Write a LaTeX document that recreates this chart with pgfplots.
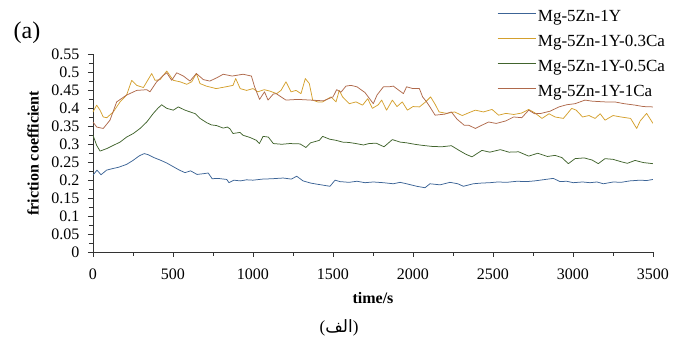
\documentclass[border=0pt]{standalone}
\usepackage{pgfplots}
\pgfplotsset{compat=1.18}
\usepackage{fontspec}
\setmainfont{Liberation Serif}
\newfontfamily\arabicfont[Script=Arabic]{DejaVu Sans}
\TeXXeTstate=1
\definecolor{cblue}{RGB}{60,100,150}
\definecolor{cgold}{RGB}{212,160,45}
\definecolor{cgreen}{RGB}{65,100,45}
\definecolor{cbrown}{RGB}{175,105,75}
\begin{document}
\begin{tikzpicture}
\fontsize{16}{19}\selectfont
\begin{axis}[
  scale only axis, width=560pt, height=197.5pt,
  xmin=0, xmax=3500, ymin=0, ymax=0.55,
  axis x line=bottom, axis y line=left, axis line style={-, black!80, line width=0.7pt},
  tick align=outside,
  xtick={0,500,1000,1500,2000,2500,3000,3500},
  ytick={0,0.05,0.1,0.15,0.2,0.25,0.3,0.35,0.4,0.45,0.5,0.55},
  minor x tick num=1, minor y tick num=1,
  major tick length=5pt, minor tick length=4pt,
  tick style={black!80, line width=0.6pt},
  scaled ticks=false,
  /pgf/number format/1000 sep={},
  /pgf/number format/assume math mode=true,
  yticklabel style={/pgf/number format/fixed, /pgf/number format/precision=2, xshift=-3pt},
  xticklabel style={yshift=-6pt},
  legend style={draw=none, fill=none, at={(rel axis cs:0.716,1.235)}, anchor=north west,
    legend cell align=left, row sep=10pt, column sep=2pt, font=\fontsize{17}{20}\selectfont,
    nodes={inner sep=0pt, text height=11.5pt, text depth=3.5pt}},
  legend image code/.code={\draw[#1, line width=0.8pt] (0pt,0.28em) -- (38pt,0.28em);},
  every axis plot/.append style={line width=0.75pt, line join=round},
]
\coordinate (o) at (rel axis cs:0,0);
\addplot[cblue] coordinates {
(0,0.214)(25,0.228)(50,0.215)(85,0.228)(120,0.232)(160,0.236)(210,0.244)(250,0.255)(290,0.268)(320,0.274)(345,0.271)(380,0.263)(420,0.256)(460,0.248)(500,0.238)(540,0.228)(575,0.221)(610,0.226)(650,0.216)(690,0.218)(720,0.220)(745,0.204)(780,0.205)(836,0.202)(850,0.193)(880,0.200)(920,0.198)(960,0.201)(1000,0.200)(1060,0.203)(1120,0.204)(1188,0.206)(1240,0.203)(1273,0.211)(1313,0.198)(1360,0.192)(1398,0.189)(1440,0.186)(1481,0.183)(1513,0.200)(1544,0.196)(1600,0.194)(1650,0.197)(1700,0.193)(1752,0.195)(1815,0.193)(1877,0.190)(1919,0.194)(1960,0.190)(2023,0.183)(2075,0.179)(2106,0.190)(2169,0.187)(2231,0.194)(2280,0.190)(2315,0.183)(2377,0.190)(2430,0.192)(2481,0.193)(2530,0.195)(2585,0.194)(2650,0.197)(2710,0.196)(2760,0.198)(2794,0.200)(2877,0.205)(2919,0.196)(2960,0.197)(3002,0.193)(3060,0.195)(3106,0.193)(3150,0.195)(3190,0.190)(3252,0.195)(3300,0.194)(3356,0.198)(3419,0.200)(3460,0.199)(3500,0.202)
};
\addlegendentry{Mg-5Zn-1Y}
\addplot[cgold] coordinates {
(0,0.390)(23,0.409)(44,0.395)(64,0.376)(86,0.374)(127,0.390)(169,0.418)(210,0.437)(242,0.478)(273,0.464)(315,0.458)(367,0.497)(388,0.478)(419,0.480)(461,0.504)(502,0.478)(544,0.474)(586,0.467)(617,0.474)(646,0.497)(669,0.469)(708,0.462)(770,0.455)(830,0.460)(875,0.464)(892,0.483)(920,0.455)(960,0.450)(1000,0.455)(1030,0.446)(1070,0.452)(1106,0.448)(1148,0.441)(1175,0.450)(1206,0.474)(1238,0.446)(1269,0.450)(1300,0.441)(1327,0.483)(1352,0.469)(1373,0.423)(1404,0.418)(1435,0.418)(1488,0.432)(1519,0.418)(1539,0.450)(1560,0.432)(1602,0.413)(1644,0.418)(1685,0.409)(1717,0.427)(1746,0.400)(1783,0.410)(1804,0.423)(1835,0.395)(1871,0.423)(1900,0.405)(1933,0.418)(1965,0.395)(2000,0.405)(2040,0.404)(2079,0.418)(2110,0.432)(2140,0.410)(2163,0.390)(2210,0.386)(2260,0.390)(2308,0.380)(2350,0.388)(2390,0.395)(2440,0.390)(2494,0.397)(2535,0.381)(2580,0.386)(2630,0.383)(2680,0.387)(2723,0.397)(2760,0.388)(2806,0.372)(2850,0.385)(2888,0.376)(2940,0.372)(2992,0.400)(3020,0.395)(3060,0.376)(3100,0.380)(3138,0.372)(3170,0.385)(3200,0.367)(3250,0.380)(3300,0.376)(3360,0.372)(3398,0.344)(3420,0.365)(3460,0.386)(3500,0.358)
};
\addlegendentry{Mg-5Zn-1Y-0.3Ca}
\addplot[cgreen] coordinates {
(0,0.325)(23,0.297)(44,0.281)(86,0.288)(127,0.297)(169,0.306)(210,0.320)(252,0.330)(294,0.344)(336,0.362)(377,0.386)(405,0.400)(429,0.410)(461,0.400)(502,0.395)(533,0.404)(575,0.395)(640,0.385)(669,0.372)(711,0.360)(740,0.354)(773,0.352)(814,0.345)(840,0.348)(856,0.343)(875,0.330)(919,0.333)(938,0.325)(981,0.319)(1021,0.311)(1040,0.302)(1063,0.322)(1096,0.320)(1127,0.302)(1180,0.300)(1230,0.302)(1294,0.301)(1331,0.291)(1360,0.304)(1415,0.311)(1435,0.322)(1480,0.314)(1519,0.311)(1560,0.306)(1600,0.305)(1644,0.302)(1690,0.298)(1725,0.302)(1770,0.303)(1819,0.293)(1871,0.313)(1920,0.306)(1960,0.304)(2010,0.300)(2058,0.297)(2120,0.294)(2180,0.293)(2240,0.296)(2288,0.283)(2331,0.272)(2369,0.265)(2431,0.283)(2480,0.278)(2546,0.285)(2600,0.278)(2660,0.279)(2723,0.267)(2780,0.275)(2840,0.266)(2888,0.269)(2930,0.263)(2971,0.246)(3013,0.260)(3070,0.262)(3120,0.256)(3158,0.246)(3200,0.260)(3250,0.258)(3304,0.251)(3340,0.247)(3388,0.255)(3440,0.249)(3500,0.246)
};
\addlegendentry{Mg-5Zn-1Y-0.5Ca}
\addplot[cbrown] coordinates {
(0,0.362)(23,0.348)(64,0.344)(106,0.367)(148,0.418)(210,0.437)(273,0.450)(336,0.452)(356,0.446)(398,0.474)(440,0.492)(461,0.499)(492,0.478)(523,0.499)(565,0.490)(606,0.476)(646,0.497)(690,0.480)(730,0.476)(773,0.485)(814,0.495)(870,0.490)(938,0.495)(990,0.490)(1010,0.460)(1041,0.425)(1072,0.446)(1094,0.423)(1127,0.440)(1145,0.441)(1206,0.423)(1280,0.425)(1360,0.423)(1440,0.421)(1500,0.432)(1523,0.452)(1550,0.445)(1581,0.462)(1612,0.464)(1650,0.460)(1700,0.444)(1752,0.413)(1775,0.437)(1815,0.460)(1850,0.460)(1877,0.462)(1940,0.441)(1960,0.460)(2000,0.455)(2040,0.455)(2060,0.432)(2085,0.418)(2106,0.404)(2138,0.381)(2200,0.384)(2240,0.390)(2275,0.370)(2320,0.353)(2348,0.353)(2390,0.344)(2430,0.353)(2473,0.362)(2520,0.358)(2580,0.365)(2629,0.376)(2680,0.374)(2723,0.395)(2760,0.385)(2800,0.386)(2856,0.392)(2912,0.404)(2960,0.410)(3013,0.413)(3075,0.423)(3120,0.420)(3200,0.418)(3260,0.418)(3320,0.413)(3388,0.409)(3440,0.405)(3500,0.404)
};
\addlegendentry{Mg-5Zn-1Y-1Ca}
\end{axis}
\node[font=\fontsize{24}{28}\selectfont, anchor=center] at ([shift={(-66pt,219pt)}]o) {(a)};
\node[anchor=center, font=\bfseries] at ([shift={(280pt,-46pt)}]o) {time/s};
\node[anchor=center, rotate=90, font=\bfseries] at ([shift={(-60pt,98.75pt)}]o) {friction coefficient};
\node[anchor=center] at ([shift={(246pt,-76pt)}]o) {\fontsize{17}{20}\selectfont({\arabicfont\beginR الف\endR})};
\pgfresetboundingbox
\path ([shift={(-93pt,-92pt)}]o) rectangle ++(681pt,344pt);
\end{tikzpicture}
\end{document}
